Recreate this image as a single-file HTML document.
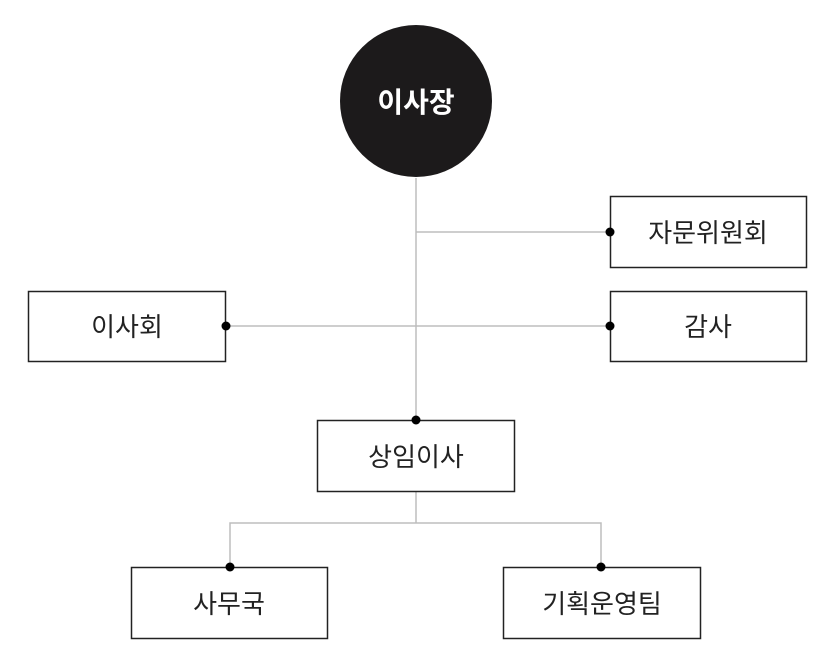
<!DOCTYPE html>
<html><head><meta charset="utf-8"><style>
body{margin:0;background:#fff;}
svg text{font-family:"Liberation Sans","Noto Sans CJK KR",sans-serif;}
</style></head><body>
<svg width="834" height="665" xmlns="http://www.w3.org/2000/svg">
<g stroke="#bdbdbd" stroke-width="1.5" fill="none">
<line x1="416" y1="178" x2="416" y2="420"/>
<line x1="416" y1="232" x2="610" y2="232"/>
<line x1="226" y1="326" x2="610" y2="326"/>
<line x1="416" y1="491" x2="416" y2="523"/>
<polyline points="230,567 230,523 601,523 601,567"/>
</g>
<circle cx="416" cy="101" r="76" fill="#1c1a1b"/>
<text x="416" y="112" text-anchor="middle" font-size="28" font-weight="bold" fill="#fff">이사장</text>
<g fill="#fff" stroke="#222" stroke-width="1.5">
<rect x="610.5" y="196.5" width="196" height="71"/>
<rect x="28.5" y="291.5" width="197" height="70"/>
<rect x="610.5" y="291.5" width="196" height="70"/>
<rect x="317.5" y="420.5" width="197" height="71"/>
<rect x="131.5" y="567.5" width="196" height="71"/>
<rect x="503.5" y="567.5" width="197" height="71"/>
</g>
<g fill="#000">
<circle cx="610" cy="232" r="4.5"/>
<circle cx="226" cy="326" r="4.5"/>
<circle cx="610" cy="326" r="4.5"/>
<circle cx="416" cy="420" r="4.5"/>
<circle cx="230" cy="567" r="4.5"/>
<circle cx="601" cy="567" r="4.5"/>
</g>
<g font-size="26" fill="#222" text-anchor="middle">
<text x="708" y="242">자문위원회</text>
<text x="127" y="336">이사회</text>
<text x="708" y="336">감사</text>
<text x="416" y="466">상임이사</text>
<text x="229" y="613">사무국</text>
<text x="602" y="613">기획운영팀</text>
</g>
</svg>
</body></html>
